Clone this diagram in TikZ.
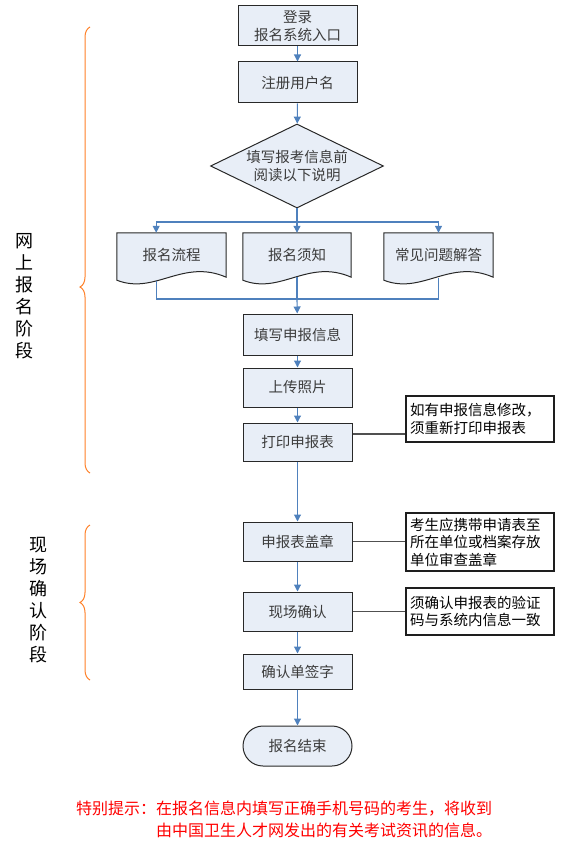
\documentclass[tikz,border=0pt]{standalone}
\usepackage{fontspec}
\setmainfont{Noto Sans CJK SC}
\usetikzlibrary{shapes.geometric,arrows.meta,calc,backgrounds,decorations.pathreplacing}

\definecolor{boxfill}{RGB}{232,238,247}
\definecolor{boxtext}{RGB}{60,60,60}
\definecolor{flowblue}{RGB}{79,129,189}
\definecolor{braceorange}{RGB}{255,128,40}

\tikzset{
  procbox/.style={draw={rgb,255:red,40;green,40;blue,40}, line width=1pt, fill=boxfill,
    text=boxtext, minimum width=109pt, minimum height=39pt, inner sep=0pt, align=center,
    font=\fontsize{14.5}{17.5}\selectfont},
  docbox/.style={minimum width=109pt, minimum height=44pt, inner sep=0pt,
    text=boxtext, font=\fontsize{14.5}{17.5}\selectfont},
  notebox/.style={draw={rgb,255:red,30;green,30;blue,30}, line width=1.3pt, fill=white,
    text width=140pt, inner sep=4pt, align=left,
    font=\fontsize{14.5}{17.5}\selectfont},
  flow/.style={draw=flowblue, line width=1.1pt, -{Triangle[width=7pt,length=7pt]}},
  flowline/.style={draw=flowblue, line width=1.1pt},
  noteline/.style={draw={rgb,255:red,80;green,80;blue,80}, line width=1.5pt},
  stagebrace/.style={draw=braceorange, line width=1pt,
    decorate, decoration={brace, amplitude=10pt, #1}},
  stagebrace/.default={aspect=0.5},
  stagelabel/.style={align=center, inner sep=0pt, font=\fontsize{18}{22}\selectfont}
}

% document shape behind a docbox node
\newcommand\docshape[1]{%
  \begin{scope}[on background layer]
    \draw[draw={rgb,255:red,40;green,40;blue,40}, line width=1pt, fill=boxfill]
      ($(#1.south west)+(0,-3pt)$) -- (#1.north west) -- (#1.north east) -- (#1.south east)
      .. controls ($(#1.south west)!0.6!(#1.south east)+(0,19pt)$)
      and ($(#1.south west)!0.35!(#1.south east)+(0,-18pt)$)
      .. ($(#1.south west)+(0,-3pt)$) -- cycle;
  \end{scope}}

\begin{document}
\begin{tikzpicture}[x=1pt, y=-1pt]
  \useasboundingbox (0,0) rectangle (567,850);

  % online stage
  \node[procbox, minimum width=119pt, minimum height=40pt] (login) at (297.5,26) {登录\\报名系统入口};
  \node[procbox, minimum width=119pt, minimum height=41pt] (reg) at (297.5,82.5) {注册用户名};
  \node[diamond, aspect=2.06, minimum width=173pt, minimum height=84pt, inner sep=0pt,
    draw={rgb,255:red,40;green,40;blue,40}, line width=1pt, fill=boxfill, text=boxtext,
    align=center, font=\fontsize{14.5}{18}\selectfont] (read) at (297,166) {填写报考信息前\\阅读以下说明};
  \node[docbox] (d1) at (171.5,255) {报名流程};
  \node[docbox, minimum width=108pt] (d2) at (297,255) {报名须知};
  \node[docbox] (d3) at (438.5,255) {常见问题解答};
  \docshape{d1}
  \docshape{d2}
  \docshape{d3}
  \node[procbox, minimum height=41pt] (fill) at (297.5,334.5) {填写申报信息};
  \node[procbox] (photo) at (297.5,387.5) {上传照片};
  \node[procbox, minimum height=38pt] (print) at (297.5,442) {打印申报表};
  \node[notebox, minimum height=46pt] (note1) at (480,419) {如有申报信息修改，\\须重新打印申报表};

  % on-site stage
  \node[procbox] (stamp) at (297.5,541.5) {申报表盖章};
  \node[notebox, minimum height=58pt] (note2) at (480,542) {考生应携带申请表至\\所在单位或档案存放\\单位审查盖章};
  \node[procbox] (confirm) at (297.5,611.5) {现场确认};
  \node[notebox, minimum height=47pt] (note3) at (480,611.5) {须确认申报表的验证\\码与系统内信息一致};
  \node[procbox, minimum height=35pt] (sign) at (297.5,671.5) {确认单签字};
  \node[procbox, rounded corners=20pt, minimum height=40pt] (end) at (297.5,746) {报名结束};

  % stage labels
  \node[stagelabel] (online) at (24,296) {网\\上\\报\\名\\阶\\段};
  \node[stagelabel] (onsite) at (38,600) {现\\场\\确\\认\\阶\\段};
  \draw[stagebrace={aspect=0.417}] (90,473) -- (90,27);
  \draw[stagebrace] (90,680) -- (90,525);

  \coordinate (split) at (297,222);
  \coordinate (merge) at (297,299);
  \coordinate (d1in) at ($(d1.north west)!0.36!(d1.north east)$);
  \coordinate (d1out) at ($(d1.south west)!0.36!(d1.south east)+(0,-4pt)$);
  \coordinate (d3out) at ($(d3.south)+(0,-1pt)$);
  \coordinate (p1) at ($(print.east)+(0,8pt)$);

  \begin{scope}
    \draw[flow] (login) -- (reg);
    \draw[flow] (reg) -- (read);
    \draw[flow] (read.south) -- (d2.north);
    \draw[flow] (split) -| (d1in);
    \draw[flow] (split) -| (d3.north);
    \draw[flowline] (d1out) |- (merge) -| (d3out);
    \draw[flowline] (d2.south) -- (merge);
    \draw[flow] (merge) -- (fill);
    \draw[flow] (fill) -- (photo);
    \draw[flow] (photo) -- (print);
    \draw[flow] (print) -- (stamp);
    \draw[flow] (stamp) -- (confirm);
    \draw[flow] (confirm) -- (sign);
    \draw[flow] (sign) -- (end);
  \end{scope}

  \begin{scope}
    \draw[noteline] (p1) -- (p1 -| note1.west);
    \draw[noteline] (stamp.east) -- (stamp.east -| note2.west);
    \draw[noteline] (confirm.east) -- (confirm.east -| note3.west);
  \end{scope}

  % hint
  \node[anchor=west, inner sep=0pt, text=red, align=left,
    font=\fontsize{16}{22}\selectfont] (hint) at (76,819)
    {特别提示：在报名信息内填写正确手机号码的考生，将收到\\\hspace*{5em}由中国卫生人才网发出的有关考试资讯的信息。};
\end{tikzpicture}
\end{document}
